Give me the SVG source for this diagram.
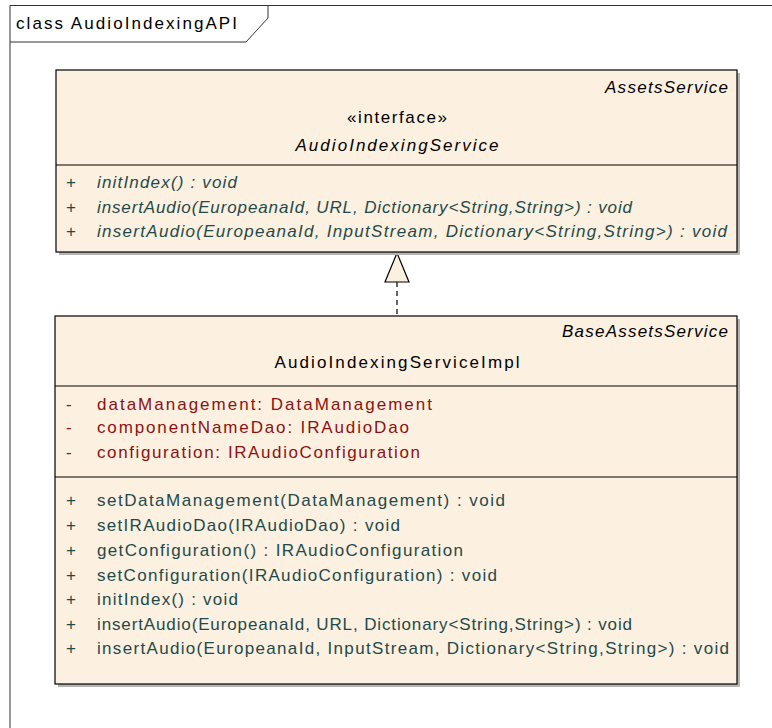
<svg xmlns="http://www.w3.org/2000/svg" width="772" height="728" viewBox="0 0 772 728">
<style>
text{font-family:"Liberation Sans","Arial",sans-serif;font-size:17px;}
.hd{fill:#000;}
.it{font-style:italic;}
.op{fill:#1f4a4a;}
.at{fill:#8e1010;}
.box{fill:#fcf0e1;stroke:#000;stroke-width:1.2;}
.sh{fill:#b4b4b4;}
.sep{stroke:#000;stroke-width:1.2;}
</style>
<rect width="772" height="728" fill="#fff"/>
<g id="frame">
<path d="M10,728 V5.5 H772" fill="none" stroke="#333" stroke-width="1"/>
<path d="M10,42 H246 L268,18 V5.5" fill="none" stroke="#333" stroke-width="1"/>
<text x="16" y="29" class="hd" textLength="221" lengthAdjust="spacing">class AudioIndexingAPI</text>
</g>
<g id="connectors">
<line x1="397" y1="282" x2="397" y2="316" stroke="#000" stroke-width="1.2" stroke-dasharray="5,4"/>
<polygon points="397,253 385,282 409,282" fill="#fcf0e1" stroke="#000" stroke-width="1.2"/>
</g>
<g id="AudioIndexingService">
<rect x="59" y="73" width="681" height="182" class="sh"/>
<rect x="56" y="70" width="681" height="182" class="box"/>
<line x1="56" y1="165" x2="737" y2="165" class="sep"/>
<text x="728" y="93" class="hd it" text-anchor="end" textLength="123" lengthAdjust="spacing">AssetsService</text>
<text x="397" y="123" class="hd" text-anchor="middle" textLength="100" lengthAdjust="spacing">«interface»</text>
<text x="397" y="151" class="hd it" text-anchor="middle" textLength="203" lengthAdjust="spacing">AudioIndexingService</text>
<text x="66" y="188" class="op">+</text>
<text x="97" y="188" class="op it" textLength="140" lengthAdjust="spacing">initIndex() : void</text>
<text x="66" y="213" class="op">+</text>
<text x="97" y="213" class="op it" textLength="535" lengthAdjust="spacing">insertAudio(EuropeanaId, URL, Dictionary&lt;String,String&gt;) : void</text>
<text x="66" y="237" class="op">+</text>
<text x="97" y="237" class="op it" textLength="630" lengthAdjust="spacing">insertAudio(EuropeanaId, InputStream, Dictionary&lt;String,String&gt;) : void</text>
</g>
<g id="AudioIndexingServiceImpl">
<rect x="58" y="319" width="682" height="368" class="sh"/>
<rect x="55" y="316" width="682" height="368" class="box"/>
<line x1="55" y1="386" x2="737" y2="386" class="sep"/>
<line x1="55" y1="477" x2="737" y2="477" class="sep"/>
<text x="728" y="337" class="hd it" text-anchor="end" textLength="166" lengthAdjust="spacing">BaseAssetsService</text>
<text x="397" y="368" class="hd" text-anchor="middle" textLength="245" lengthAdjust="spacing">AudioIndexingServiceImpl</text>
<text x="66" y="410" class="at">-</text>
<text x="97" y="410" class="at" textLength="335" lengthAdjust="spacing">dataManagement:  DataManagement</text>
<text x="66" y="433" class="at">-</text>
<text x="97" y="433" class="at" textLength="312" lengthAdjust="spacing">componentNameDao:  IRAudioDao</text>
<text x="66" y="458" class="at">-</text>
<text x="97" y="458" class="at" textLength="323" lengthAdjust="spacing">configuration:  IRAudioConfiguration</text>
<text x="66" y="506" class="op">+</text>
<text x="97" y="506" class="op" textLength="408" lengthAdjust="spacing">setDataManagement(DataManagement) : void</text>
<text x="66" y="531" class="op">+</text>
<text x="97" y="531" class="op" textLength="303" lengthAdjust="spacing">setIRAudioDao(IRAudioDao) : void</text>
<text x="66" y="556" class="op">+</text>
<text x="97" y="556" class="op" textLength="366" lengthAdjust="spacing">getConfiguration() : IRAudioConfiguration</text>
<text x="66" y="581" class="op">+</text>
<text x="97" y="581" class="op" textLength="400" lengthAdjust="spacing">setConfiguration(IRAudioConfiguration) : void</text>
<text x="66" y="605" class="op">+</text>
<text x="97" y="605" class="op" textLength="141" lengthAdjust="spacing">initIndex() : void</text>
<text x="66" y="630" class="op">+</text>
<text x="97" y="630" class="op" textLength="535" lengthAdjust="spacing">insertAudio(EuropeanaId, URL, Dictionary&lt;String,String&gt;) : void</text>
<text x="66" y="654" class="op">+</text>
<text x="97" y="654" class="op" textLength="632" lengthAdjust="spacing">insertAudio(EuropeanaId, InputStream, Dictionary&lt;String,String&gt;) : void</text>
</g>
</svg>
